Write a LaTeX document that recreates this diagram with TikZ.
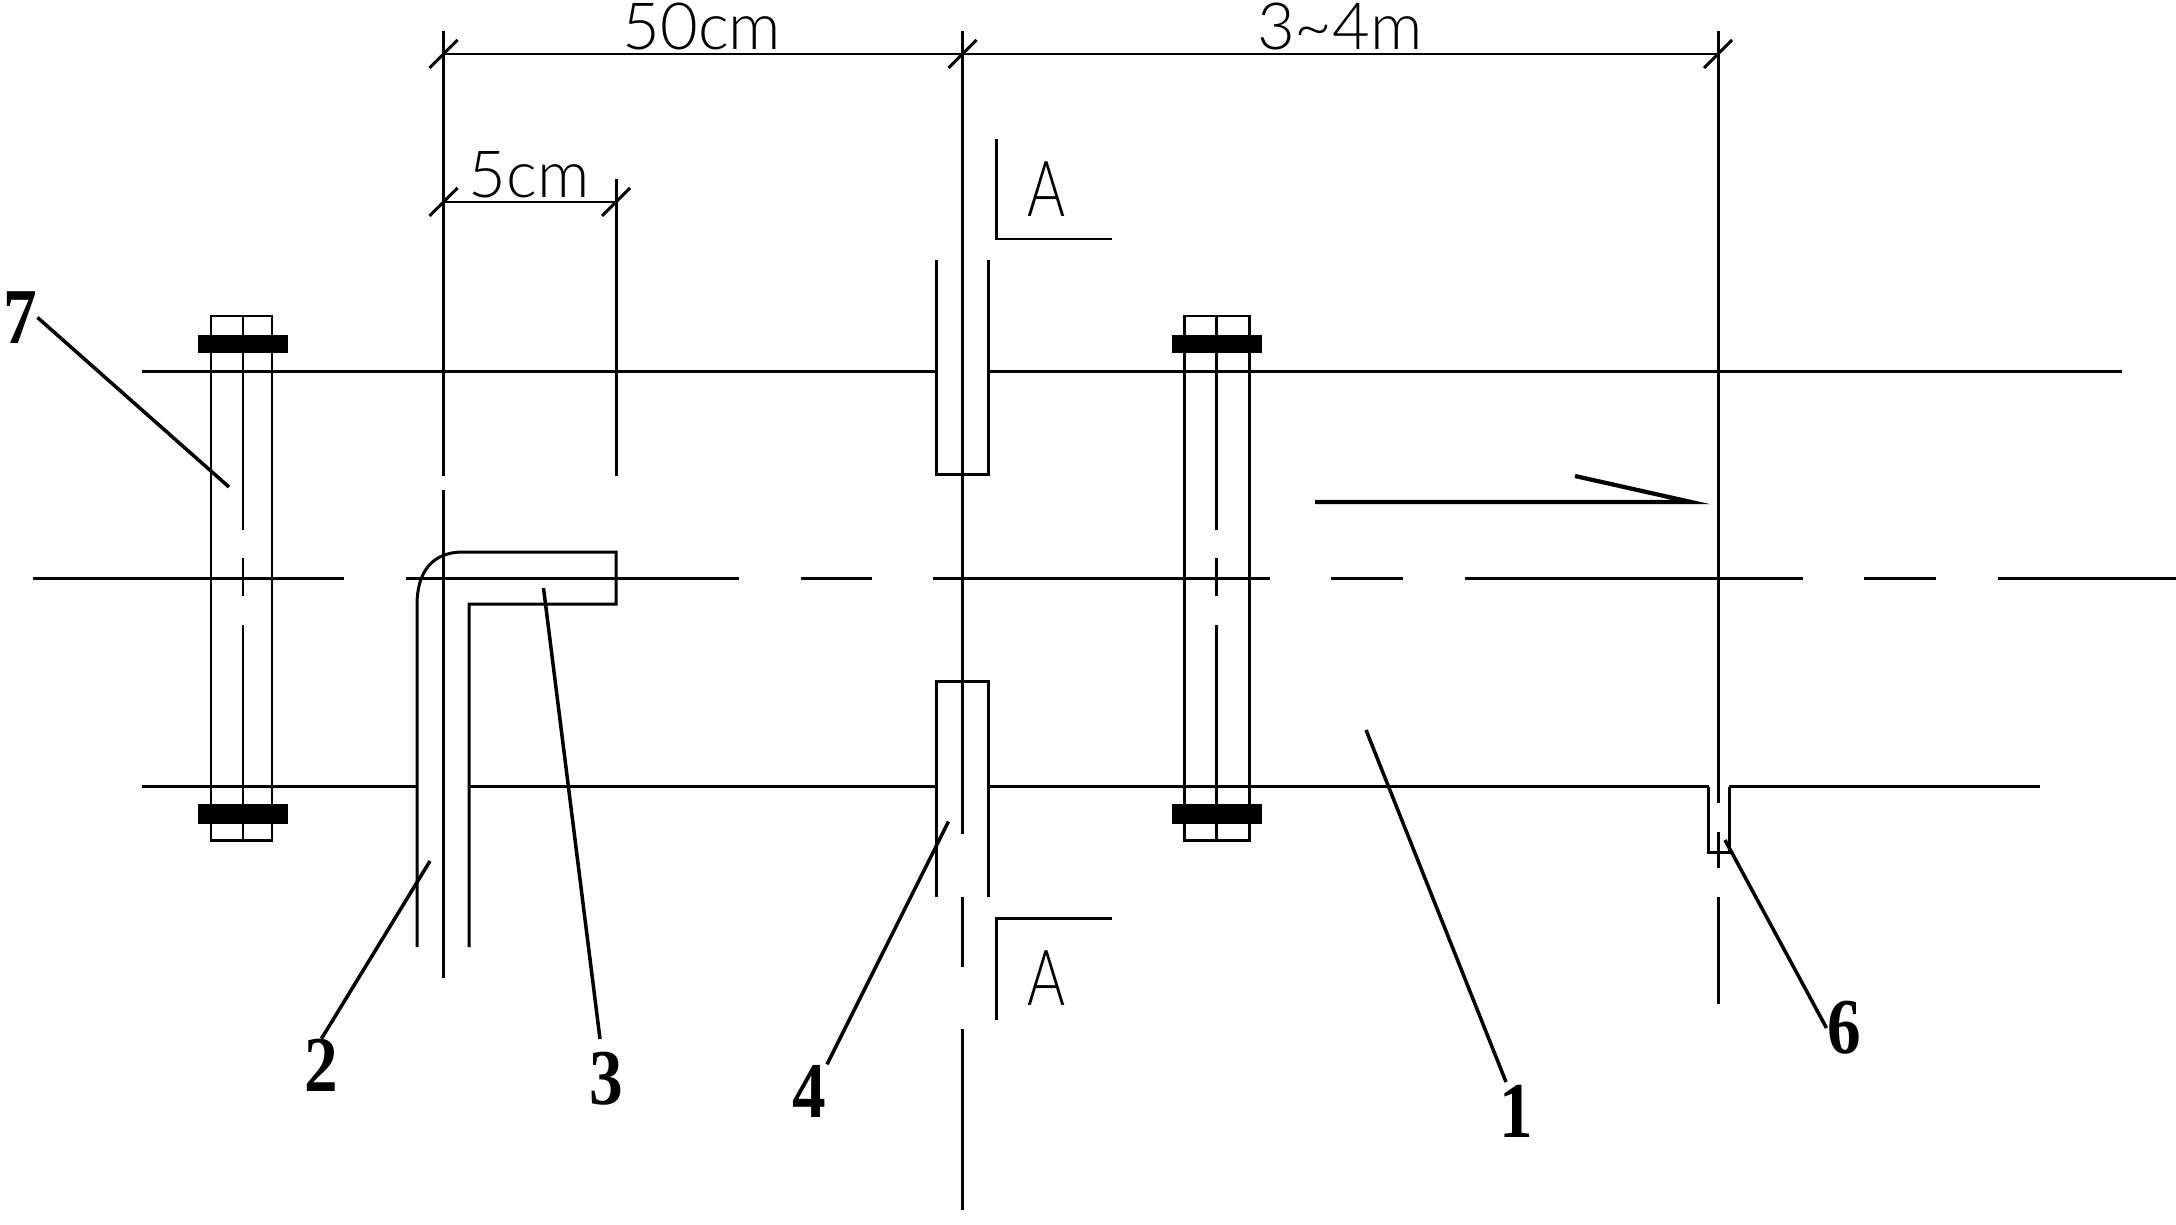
\documentclass[tikz,border=0pt]{standalone}
\usepackage{graphicx}
\usepackage{fontspec}
\setmainfont{Liberation Serif}
\newfontfamily\dimfont[UprightFont=* Light]{Lato}
\usetikzlibrary{calc}

\tikzset{
    part/.style={line width=0.85pt},
    leader/.style={line width=1pt},
    dimtext/.style={inner sep=0pt, font=\dimfont\fontsize{18.5}{18.5}\selectfont},
    sectext/.style={inner sep=0pt, font=\dimfont\fontsize{22}{22}\selectfont},
    numtext/.style={inner sep=0pt, font=\bfseries\fontsize{22.5}{22.5}\selectfont}
}

\begin{document}
\begin{tikzpicture}[x=0.01cm, y=-0.01cm]
            \useasboundingbox (0,0) rectangle (2176,1224);

            % Centre lines
            \foreach \a/\b in {33/344,405.5/739,801/872,933/1270,1331/1403,1465/1803,1864/1936,1998/2176}
                \draw[part] (\a,578.5) -- (\b,578.5);
            \foreach \x/\a/\b in {443.5/31/476,443.5/490/977.5,616/179/476,
                                  962.5/31/834,962.5/897/967,962.5/1029/1210,
                                  1718/31/803,1718/832/868,1718/897/1004}
                \draw[part] (\x,\a) -- (\x,\b);

            % Pipe walls
            \foreach \a/\b in {142/936.5,988/2122}
                \draw[part] (\a,371) -- (\b,371);
            \foreach \a/\b in {142/417,469/936.5,988/1708.5,1729/2040}
                \draw[part] (\a,786.5) -- (\b,786.5);
            \draw[part] (1708.5,786.5) -- (1708.5,852) -- (1729,852) -- (1729,786.5);

            % Bolted flanges
            \foreach \bx/\bw in {243/29,1216.5/32.5} {
                \draw[part] (\bx-32,316) rectangle (\bx+\bw,840);
                \foreach \a/\b in {316/530,558/596,625/840}
                    \draw[part] (\bx,\a) -- (\bx,\b);
                \fill (\bx-45,335) rectangle (\bx+45,353);
                \fill (\bx-45,804) rectangle (\bx+45,824);
            }

            % Plate
            \draw[part] (936.5,260) -- (936.5,474) -- (988,474) -- (988,260);
            \draw[part] (936.5,897) -- (936.5,681.5) -- (988,681.5) -- (988,897);

            % Bent pipe
            \draw[part] (417,947) -- (417,605) .. controls (417,572) and (432,552) .. (463,552)
                -- (616,552) -- (616,604) -- (469,604) -- (469,947);

            % Flow direction
            \draw[part, line width=1.2pt] (1315,502) -- (1691,502) -- (1575,476);

            % Dimensions
            \draw[part] (443.5,54) -- (1718,54);
            \draw[part] (443.5,202) -- (616,202);
            \foreach \x/\y in {443.5/54,962.5/54,1718/54,443.5/202,616/202}
                \draw[part] (\x-14,\y+14) -- (\x+14,\y-14);
            \node[dimtext] (dimA) at (702,26.5) {50cm};
            \node[dimtext] (dimB) at (529,175) {5cm};
            \node[dimtext] (dimC) at (1340,26.5) {3\char"007E 4m};

            % Section marks
            \draw[part] (996,139) -- (996,239) -- (1112,239);
            \draw[part] (996,1019.5) -- (996,918.5) -- (1112,918.5);
            \node[sectext] (secA) at (1047,189.5) {\scalebox{0.75}[1]{A}};
            \node[sectext] (secB) at (1047,978) {\scalebox{0.75}[1]{A}};

            % Part numbers
            \node[numtext] (num7) at (20,317.5) {\scalebox{0.85}[1]{7}};
            \node[numtext] (num2) at (321.5,1065.5) {\scalebox{0.85}[1]{2}};
            \node[numtext] (num3) at (606,1078.5) {\scalebox{0.85}[1]{3}};
            \node[numtext] (num4) at (809.5,1091) {\scalebox{0.85}[1]{4}};
            \node[numtext] (num1) at (1516.5,1111) {\scalebox{0.85}[1]{1}};
            \node[numtext] (num6) at (1844,1028) {\scalebox{0.85}[1]{6}};

            % Leaders
            \coordinate (tip7) at (229,487);
            \coordinate (tip2) at (430,861);
            \coordinate (tip3) at (543.5,588);
            \coordinate (tip4) at (948.5,821.5);
            \coordinate (tip1) at (1366,730);
            \coordinate (tip6) at (1725,840);
            \coordinate (end3) at (600,1039);
            \coordinate (end1) at (1506,1082);
            \draw[leader] (tip7) -- (num7.east);
            \draw[leader] (tip2) -- (num2.north);
            \draw[leader] (tip3) -- (end3);
            \draw[leader] (tip4) -- (num4.north east);
            \draw[leader] (tip1) -- (end1);
            \draw[leader] (tip6) -- (num6.west);
\end{tikzpicture}
\end{document}
